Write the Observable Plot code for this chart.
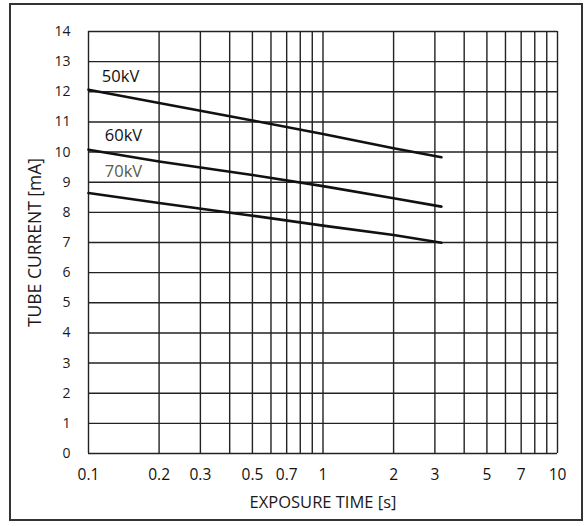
<!DOCTYPE html>
<html>
<head>
<meta charset="utf-8">
<script src="https://cdn.jsdelivr.net/npm/d3@7"></script>
<script src="https://cdn.jsdelivr.net/npm/@observablehq/plot@0.6"></script>
<style>
  body { margin: 0; background: #fff; }
  #wrap { position: relative; width: 587px; height: 526px; }
  #border { position: absolute; left: 9px; top: 3px; width: 574px; height: 518px; border: 2px solid #333; box-sizing: border-box; pointer-events: none; }
</style>
</head>
<body>
<div id="wrap"><div id="border"></div></div>
<script>
// Exposure time (s) sample points
const times = [0.1, 0.2, 0.5, 1, 2, 3.2];
// Tube current (mA) per kV series
const kv50 = [12.07, 11.63, 11.05, 10.6, 10.13, 9.83];
const kv60 = [10.08, 9.69, 9.24, 8.87, 8.47, 8.19];
const kv70 = [8.64, 8.31, 7.89, 7.56, 7.25, 6.99];
const seriesNames = ["50kV", "60kV", "70kV"];
// Label anchor positions (data coords)
const labelX = [0.137, 0.141, 0.141];
const labelY = [12.5, 10.55, 9.35];
const labelColors = ["#111", "#111", "#5b5a45"];

const xTicks = [0.1, 0.2, 0.3, 0.5, 0.7, 1, 2, 3, 5, 7, 10];
const xTickLabels = ["0.1", "0.2", "0.3", "0.5", "0.7", "1", "2", "3", "5", "7", "10"];
const xGrid = [0.1,0.2,0.3,0.4,0.5,0.6,0.7,0.8,0.9,1,2,3,4,5,6,7,8,9,10];
const yTicks = d3.range(0, 15);
const xTitle = "EXPOSURE TIME [s]";
const yTitle = "TUBE CURRENT [mA]";

const rows = [];
[kv50, kv60, kv70].forEach((vals, i) => vals.forEach((v, j) => rows.push({t: times[j], mA: v, s: seriesNames[i]})));
const labels = seriesNames.map((s, i) => ({s, x: labelX[i], y: labelY[i], c: labelColors[i]}));
const xTickData = xTicks.map((v, i) => ({v, t: xTickLabels[i]}));

const font = "'Open Sans', sans-serif";
const chart = Plot.plot({
  width: 587,
  height: 526,
  marginLeft: 88,
  marginRight: 30,
  marginTop: 31,
  marginBottom: 73,
  style: {fontFamily: font, fontSize: "13px", color: "#1a1a1a", background: "transparent"},
  x: {type: "log", domain: [0.1, 10], axis: null},
  y: {domain: [0, 14]},
  marks: [
    Plot.ruleX(xGrid, {stroke: "#222", strokeWidth: 1.4}),
    Plot.ruleY(yTicks, {stroke: "#222", strokeWidth: 1.4}),
    Plot.text(xTickData, {x: "v", text: "t", frameAnchor: "bottom", dy: 26, fontSize: 15.5, fill: "#111"}),
    Plot.text([xTitle], {text: d => d, frameAnchor: "bottom", dy: 54, fontSize: 16.5, fill: "#1a1a1a"}),
    Plot.axisY(yTicks, {tickSize: 0, tickPadding: 18, fontSize: 14,
      label: yTitle, labelAnchor: "center", labelOffset: 60, labelArrow: "none"}),
    Plot.line(rows, {x: "t", y: "mA", z: "s", stroke: "#111", strokeWidth: 2.6}),
    Plot.text(labels, {x: "x", y: "y", text: "s", fill: "c", fontSize: 16.5})
  ]
});
chart.querySelectorAll("[aria-label='y-axis label'] text").forEach(t => t.setAttribute("font-size", "17.5"));
document.getElementById("wrap").prepend(chart);
</script>
</body>
</html>
